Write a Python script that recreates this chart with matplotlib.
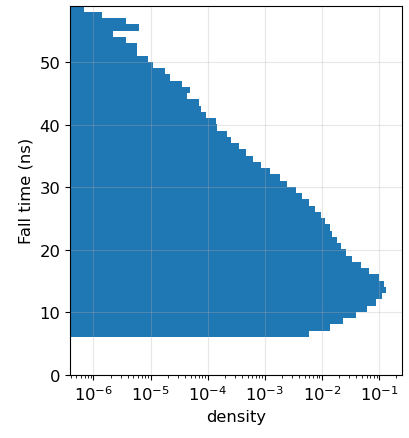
from matplotlib import pyplot as plt
import numpy as np

plt.rcParams['font.size'] = 11.8

# bin edges of the fall time histogram (ns), 1 ns wide
bin_start = 6.1
n_bins = 53

# density per bin, bottom (6 ns) to top (58 ns)
density = [
    6.0e-3, 1.35e-2, 2.36e-2, 3.98e-2, 6.19e-2, 8.89e-2, 0.113, 0.133,
    0.122, 0.100, 6.7e-2, 4.86e-2, 3.39e-2, 2.66e-2, 2.18e-2, 1.85e-2,
    1.52e-2, 1.35e-2, 1.12e-2, 9.4e-3, 7.4e-3, 6.0e-3, 4.5e-3, 3.53e-3,
    2.42e-3, 1.81e-3, 1.21e-3, 8.65e-4, 6.18e-4, 4.61e-4, 3.55e-4, 2.59e-4,
    2.15e-4, 1.47e-4, 1.38e-4, 9.5e-5, 7.57e-5, 6.99e-5, 4.26e-5, 4.86e-5,
    3.52e-5, 2.18e-5, 1.78e-5, 1.11e-5, 9.1e-6, 5.7e-6, 5.7e-6, 3.67e-6,
    2.23e-6, 6.4e-6, 3.65e-6, 1.40e-6, 6.97e-7,
]

yticks = [0, 10, 20, 30, 40, 50]


def plot_fall_times():
    edges = bin_start + np.arange(n_bins + 1)

    fig = plt.figure(figsize=(4.10, 4.39), dpi=100)
    ax = fig.add_axes([70 / 410, 63 / 439, 332 / 410, 369.5 / 439])

    ax.hist(edges[:-1], bins=edges, weights=density,
            orientation='horizontal', log=True, color='#1f77b4')
    ax.set_xscale('log')
    ax.set_xlim(3.9e-7, 0.25)
    ax.set_ylim(0, edges[-1])
    ax.set_yticks(yticks)
    ax.grid(alpha=0.3)

    ax.set_xlabel('density')
    ax.set_ylabel('Fall time (ns)')

    fig.savefig('out.png', dpi=100)


def main():
    plot_fall_times()


if __name__ == '__main__':
    main()
